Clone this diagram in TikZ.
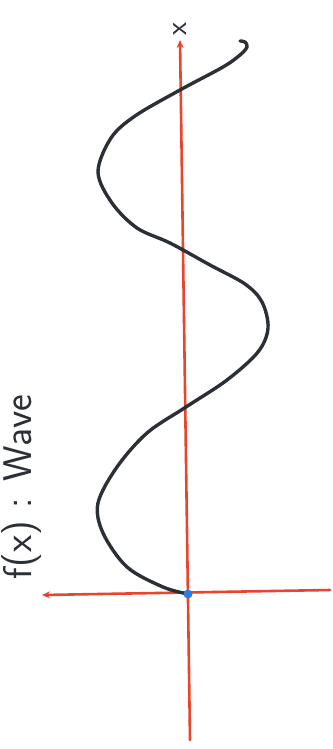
\documentclass[tikz,border=0pt]{standalone}
\usetikzlibrary{arrows.meta}
\definecolor{axisred}{HTML}{E8452C}
\definecolor{ink}{HTML}{2B2F36}
\definecolor{dotblue}{HTML}{2F7DE1}
\begin{document}
\begin{tikzpicture}[x=1pt, y=-1pt, line join=round, line cap=round, >={Stealth[length=8pt,width=7pt]}]
\useasboundingbox (0,0) rectangle (332,749);
\tikzset{axis/.style={axisred, line width=2.6pt}, wave/.style={ink, line width=3.4pt}}
\coordinate (O) at (188,594);
\coordinate (ytop) at (180,40);
\coordinate (ybot) at (190,740);
\coordinate (xleft) at (42,595);
\coordinate (xright) at (330,590);
\draw[axis,->] (ybot)--(ytop) node[ink, rotate=90, shift=(0:0.15), font=\sffamily\fontsize{30}{36}\selectfont, anchor=west] (xlab) {x};
\draw[axis,->] (xright)--(xleft);
\node[ink, rotate=90, font=\sffamily\fontsize{40}{48}\selectfont] (title) at (22,487) {f(x) : Wave};
\draw[wave] plot[smooth, tension=0.55] coordinates {(O) (163,587) (127,567) (103,533) (98,503) (117,467) (147,433) (186,407) (227,380) (258,352) (268,328) (262,302) (245,284) (210,265) (170,243) (137,228) (112,203) (98,172) (111,138) (135,116) (180,90) (223,67) (240,55) (247,47) (245,42) (240,41)};
\fill[dotblue] (O) circle (4.5);
\end{tikzpicture}
\end{document}
